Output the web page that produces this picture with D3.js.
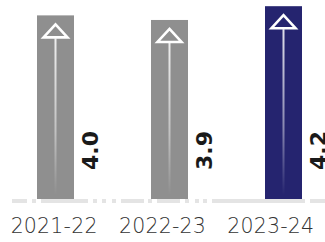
<!DOCTYPE html>
<html><head><meta charset="utf-8">
<script src="https://cdn.jsdelivr.net/npm/d3@7"></script>
<style>html,body{margin:0;padding:0;background:#fff;overflow:hidden}</style>
</head><body><div id="chart"></div>
<script>
const categories = ["2021-22", "2022-23", "2023-24"];
const values = [4.0, 3.9, 4.2];
const valueLabels = ["4.0", "3.9", "4.2"];
const colors = ["#8f8f8f", "#8f8f8f", "#25246f"];

const W = 325, H = 242, base = 199;
const svg = d3.select("#chart").append("svg").attr("width", W).attr("height", H);

const xBar = d3.scaleBand().domain(categories).range([37 - 38.5, 37 - 38.5 + 3 * 114]).paddingInner(77 / 114).paddingOuter(38.5 / 114);
const xLab = d3.scaleBand().domain(categories).range([0, W]);
const y = d3.scaleLinear().domain([0, 4.335]).range([base, 0]);

const defs = svg.append("defs");
const grad = defs.append("linearGradient").attr("id", "fade").attr("x1", 0).attr("y1", 0).attr("x2", 0).attr("y2", 1);
grad.append("stop").attr("offset", "0%").attr("stop-color", "#fff").attr("stop-opacity", 0.85);
grad.append("stop").attr("offset", "60%").attr("stop-color", "#fff").attr("stop-opacity", 0.45);
grad.append("stop").attr("offset", "100%").attr("stop-color", "#fff").attr("stop-opacity", 0);

// baseline (dashed light gray)
svg.append("line").attr("x1", 12).attr("x2", W).attr("y1", base + 2).attr("y2", base + 2)
  .attr("stroke", "#e4e4e4").attr("stroke-width", 4)
  .attr("stroke-dasharray", "15,5,4,5,47,5,4,5,4,6,4,5,23,4,4,5,23,5,4,6,4,4,4,5,93,5,15");

const g = svg.selectAll("g.bar").data(categories).join("g").attr("class", "bar");
g.append("rect")
  .attr("x", d => xBar(d)).attr("width", xBar.bandwidth())
  .attr("y", (d, i) => y(values[i])).attr("height", (d, i) => base - y(values[i]))
  .attr("fill", (d, i) => colors[i]);

g.append("rect")
  .attr("x", d => xBar(d) + xBar.bandwidth() / 2 - 1).attr("width", 2)
  .attr("y", (d, i) => y(values[i]) + 23).attr("height", (d, i) => base - 4 - y(values[i]) - 23)
  .attr("fill", "url(#fade)");

g.append("path")
  .attr("d", (d, i) => {
    const cx = xBar(d) + xBar.bandwidth() / 2, t = y(values[i]) + 9;
    return `M${cx},${t} L${cx + 12},${t + 13} L${cx - 12},${t + 13} Z`;
  })
  .attr("fill", "none").attr("stroke", "#fff").attr("stroke-width", 2.6).attr("stroke-linejoin", "miter");

g.append("text")
  .attr("transform", d => `translate(${xBar(d) + xBar.bandwidth() + 23.5},170) rotate(-90)`)
  .attr("font-family", "DejaVu Sans, sans-serif").attr("font-weight", "bold").attr("font-size", 22)
  .attr("fill", "#1a1a1a")
  .text((d, i) => valueLabels[i]);

svg.selectAll("text.cat").data(categories).join("text").attr("class", "cat")
  .attr("x", d => xLab(d) + xLab.bandwidth() / 2).attr("y", 233)
  .attr("text-anchor", "middle")
  .attr("font-family", "DejaVu Sans, sans-serif").attr("font-weight", 300).attr("font-size", 20.5)
  .attr("letter-spacing", 0.2)
  .attr("fill", "#333")
  .text(d => d);
</script></body></html>
